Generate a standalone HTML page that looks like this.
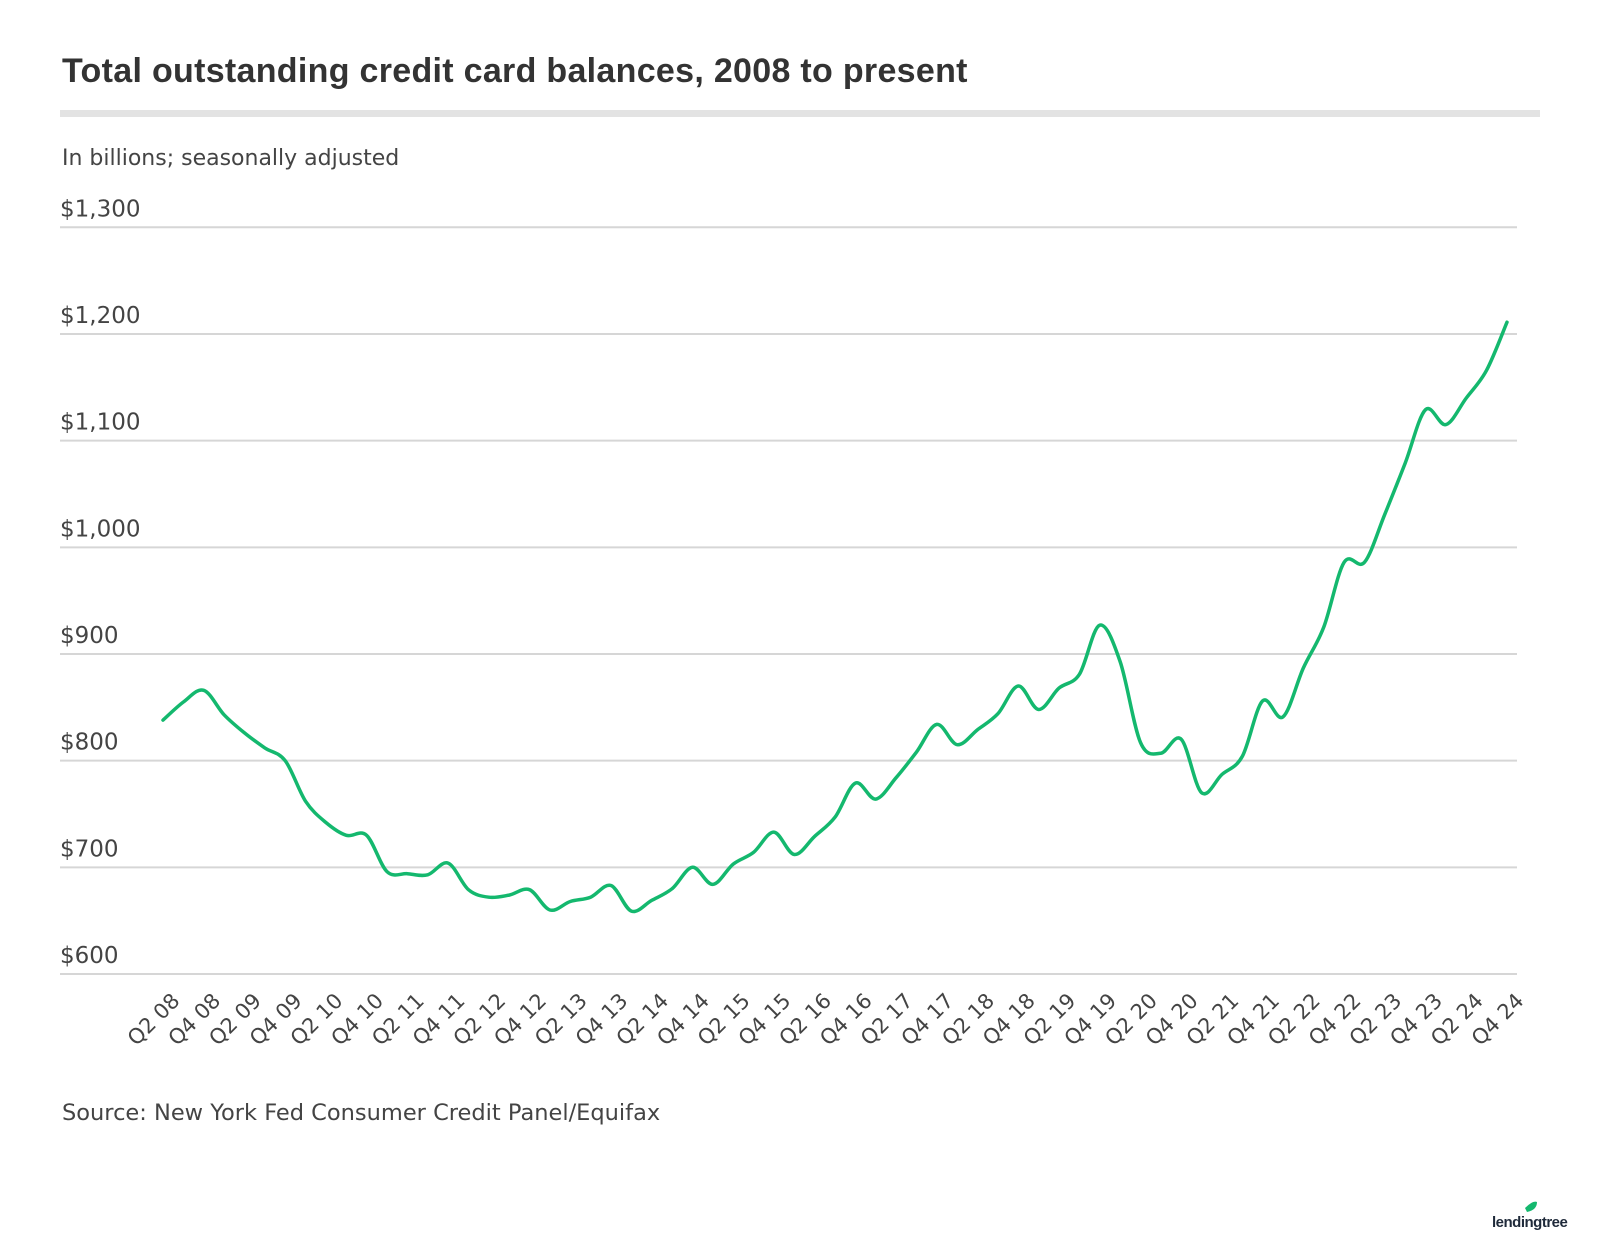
<!DOCTYPE html>
<html><head><meta charset="utf-8"><style>
html,body{margin:0;padding:0;background:#fff;}
svg{display:block;}
</style></head><body>
<svg id="c" width="1600" height="1250" xmlns="http://www.w3.org/2000/svg" font-family="'DejaVu Sans', 'Liberation Sans', sans-serif">
<rect width="1600" height="1250" fill="#fff"/>
<text x="62" y="82" font-size="34" font-weight="bold" fill="#333" font-family="'Liberation Sans', sans-serif" letter-spacing="0.3">Total outstanding credit card balances, 2008 to present</text>
<rect x="60" y="110" width="1480" height="7" fill="#e3e3e3"/>
<text x="62" y="165" font-size="22" fill="#444">In billions; seasonally adjusted</text>
<g id="grid"></g>
<g id="xl"></g>
<path id="ln" fill="none" stroke="#14b86e" stroke-width="3.5" stroke-linejoin="round" stroke-linecap="round"/>
<text x="62" y="1120" font-size="22.5" fill="#444">Source: New York Fed Consumer Credit Panel/Equifax</text>
<text x="1492" y="1227" font-size="15" font-weight="bold" fill="#1f2a3a" letter-spacing="-0.5" font-family="'Liberation Sans', sans-serif">lendingtree</text>
<path d="M1525 1208 q8 -8 12 -6 q0 8 -10 10 z" fill="#14b86e"/>
</svg>
<script>
var ns="http://www.w3.org/2000/svg";
function el(t,a,txt){var e=document.createElementNS(ns,t);for(var k in a)e.setAttribute(k,a[k]);if(txt)e.textContent=txt;return e;}
function Y(v){return 974-(v-600)*1.0667;}
var g=document.getElementById('grid');
for(var v=600;v<=1300;v+=100){
 var y=Y(v);
 g.appendChild(el('line',{x1:60,x2:1517,y1:y,y2:y,stroke:'#d6d6d6','stroke-width':2}));
 g.appendChild(el('text',{x:60,y:y-11,'font-size':23,fill:'#444'},'$'+(v>=1000?'1,'+String(v-1000).padStart(3,'0'):v)));
}
var d=[838,855,866,843,826,812,800,762,742,730,730,696,694,693,704,679,672,674,679,660,668,672,683,659,669,680,700,684,703,714,733,712,729,747,779,764,784,808,834,815,829,844,870,848,868,881,927,893,817,807,820,770,787,804,856,841,887,925,986,986,1031,1079,1129,1115,1140,1166,1211];
var x0=163,x1=1507,st=(x1-x0)/(d.length-1);
var P=d.map(function(v,i){return [x0+i*st,Y(v)];});
var s='M'+P[0][0]+' '+P[0][1];
for(var i=0;i<P.length-1;i++){
 var p0=P[Math.max(0,i-1)],p1=P[i],p2=P[i+1],p3=P[Math.min(P.length-1,i+2)];
 var c1=[p1[0]+(p2[0]-p0[0])/6,p1[1]+(p2[1]-p0[1])/6],c2=[p2[0]-(p3[0]-p1[0])/6,p2[1]-(p3[1]-p1[1])/6];
 s+=' C'+c1[0].toFixed(1)+' '+c1[1].toFixed(1)+' '+c2[0].toFixed(1)+' '+c2[1].toFixed(1)+' '+p2[0].toFixed(1)+' '+p2[1].toFixed(1);
}
document.getElementById('ln').setAttribute('d',s);
var xl=document.getElementById('xl');
for(var i=0;i<d.length;i+=2){
 var q=(i%4==0)?'Q2':'Q4';var yr=2008+Math.floor((i+1)/4);
 var x=x0+i*st+18,y=1002;
 xl.appendChild(el('text',{x:x,y:y,'font-size':21,fill:'#444','text-anchor':'end',transform:'rotate(-45 '+x+' '+y+')'},q+' '+String(yr%100).padStart(2,'0')));
}
</script>
</body></html>
